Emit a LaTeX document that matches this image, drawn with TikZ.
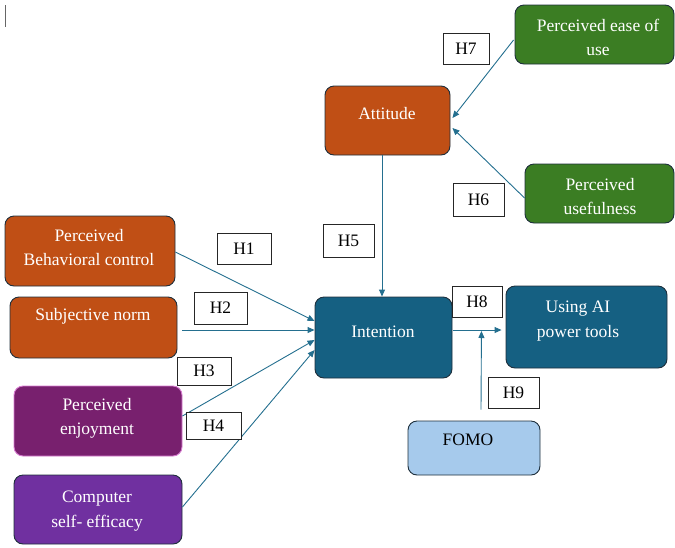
\documentclass[tikz,border=0pt]{standalone}
\usepackage{fontspec}
\setmainfont{Liberation Serif}
\usetikzlibrary{arrows.meta,calc}
\definecolor{cOrange}{HTML}{C04F15}
\definecolor{cGreen}{HTML}{3B7D23}
\definecolor{cDark}{HTML}{156082}
\definecolor{cEnjoy}{HTML}{78206E}
\definecolor{cEnjoyLine}{HTML}{D77BD0}
\definecolor{cPurple}{HTML}{7030A0}
\definecolor{cFomo}{HTML}{A6CAEC}
\definecolor{cLine}{HTML}{1E2F3C}
\definecolor{cArrow}{HTML}{246F8F}
\tikzset{
  box/.style={draw=cLine, line width=0.9pt, rounded corners=9pt, inner sep=0pt},
  lbl/.style={text=white, font=\fontsize{17.5}{24.5}\selectfont, align=center, inner sep=0pt},
  hbox/.style={draw=black!85, line width=0.7pt, fill=white, font=\fontsize{17.5}{20}\selectfont, inner sep=0pt},
  arr/.style={draw=cArrow, line width=0.9pt, -{Triangle[length=7pt,width=6pt]}}
}
\begin{document}
\begin{tikzpicture}[x=1pt,y=-1pt]
\useasboundingbox (0,0) rectangle (675,547);
% cursor mark
\draw[black!60, line width=1pt] (5.5,5) -- (5.5,27);
% boxes
\node[box, fill=cOrange, minimum width=125pt, minimum height=69pt] (att) at (387.5,120.5) {};
\node[lbl] (att-t) at (387,114) {Attitude};
\node[box, fill=cGreen, minimum width=159pt, minimum height=59pt] (peou) at (594.5,34.5) {};
\node[lbl] (peou-t) at (598,37.5) {Perceived ease of\\use};
\node[box, fill=cGreen, minimum width=149pt, minimum height=59pt] (pu) at (599.5,193.5) {};
\node[lbl] (pu-t) at (600,196.5) {Perceived\\usefulness};
\node[box, fill=cDark, minimum width=137pt, minimum height=81pt] (int) at (383.5,337.5) {};
\node[lbl] (int-t) at (383,332) {Intention};
\node[box, fill=cDark, minimum width=161pt, minimum height=82pt] (use) at (586.5,327) {};
\node[lbl] (use-t) at (578,321) {Using AI\\power tools};
\node[box, fill=cFomo, minimum width=132pt, minimum height=54pt] (fomo) at (474,448) {};
\node[lbl, text=black] (fomo-t) at (468,440) {FOMO};
\node[box, fill=cOrange, minimum width=170pt, minimum height=70pt] (pbc) at (90,251) {};
\node[lbl] (pbc-t) at (89,247.5) {Perceived\\Behavioral control};
\node[box, fill=cOrange, minimum width=167pt, minimum height=61pt] (sn) at (93.5,327.5) {};
\node[lbl] (sn-t) at (93,316) {Subjective norm};
\node[box, draw=cEnjoyLine, fill=cEnjoy, minimum width=168pt, minimum height=70pt] (pe) at (98,421) {};
\node[lbl] (pe-t) at (97,418.5) {Perceived\\enjoyment};
\node[box, fill=cPurple, minimum width=168pt, minimum height=69pt] (cse) at (98,509.5) {};
\node[lbl] (cse-t) at (97,511) {Computer\\self- efficacy};
% arrows
\draw[arr] ($(peou.west)+(-1,5.5)$) -- ($(att.east)+(2,-2.5)$);
\draw[arr] ($(pu.west)+(0,4.5)$) -- ($(att.east)+(2,7.5)$);
\draw[arr] ($(att.south)+(-5.5,0)$) -- ($(int.north)+(-1.5,0)$);
\draw[arr] ($(pbc.east)+(0,1)$) -- ($(int.west)+(0,-16.5)$);
\draw[arr] ($(sn.east)+(5,2.5)$) -- ($(int.west)+(0,-7.5)$);
\draw[arr] ($(pe.east)+(0,-5)$) -- ($(int.west)+(0,2.5)$);
\draw[arr] ($(cse.east)+(0,-2.5)$) -- ($(int.west)+(0,12.5)$);
\coordinate (j) at ($(int.east)+(29,-5.5)$);
\draw[arr] ($(int.east)+(1,-7.5)$) -- ($(use.west)+(-4,3)$);
\draw[arr] ($(fomo.north)+(7,-11)$) -- ($(j)+(0,-1)$);
% hypothesis labels
\node[hbox, minimum width=46pt, minimum height=31pt] (h7) at (466,48.5) {H7};
\node[hbox, minimum width=51pt, minimum height=33pt] (h6) at (478.5,199.5) {H6};
\node[hbox, minimum width=51pt, minimum height=33pt] (h5) at (348.5,240.5) {H5};
\node[hbox, minimum width=54pt, minimum height=31pt] (h1) at (244,248.5) {H1};
\node[hbox, minimum width=53pt, minimum height=32pt] (h2) at (220.5,308) {H2};
\node[hbox, minimum width=54pt, minimum height=28pt] (h3) at (204,371) {H3};
\node[hbox, minimum width=55pt, minimum height=27pt] (h4) at (213.5,425.5) {H4};
\node[hbox, minimum width=50pt, minimum height=31pt] (h8) at (477,301.5) {H8};
\node[hbox, minimum width=51pt, minimum height=31pt] (h9) at (513.5,392.5) {H9};
\end{tikzpicture}
\end{document}
